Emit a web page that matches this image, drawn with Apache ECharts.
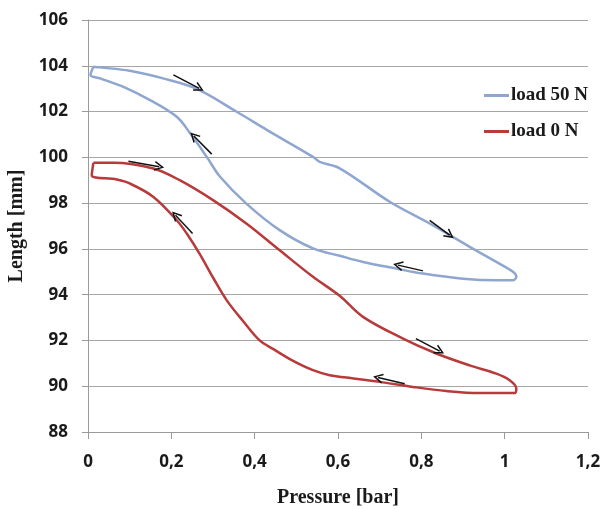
<!DOCTYPE html>
<html>
<head>
<meta charset="utf-8">
<script src="https://cdn.jsdelivr.net/npm/echarts@6/dist/echarts.min.js"></script>
<style>html,body{margin:0;padding:0;background:#fff}#c{width:603px;height:509px}</style>
</head>
<body>
<div id="c"></div>
<script>
// Pressure [bar], Length [mm] — loop for load 50 N
const load50X = [0.013,0.029,0.10,0.18,0.26,0.357,0.43,0.54,0.556,0.604,0.724,0.82,0.916,0.98,1.02,1.028,1.02,0.98,0.90,0.804,0.74,0.66,0.604,0.54,0.46,0.38,0.317,0.285,0.245,0.213,0.149,0.085,0.029,0.006,0.013];
const load50Y = [103.96,103.93,103.78,103.45,103.0,101.99,101.19,100.02,99.8,99.52,98.06,97.11,96.09,95.43,95.0,94.78,94.63,94.63,94.7,94.92,95.14,95.43,95.7,96.02,96.82,97.98,99.15,100.02,101.05,101.77,102.5,103.08,103.45,103.6,103.96];
// loop for load 0 N
const load0X = [0.013,0.061,0.157,0.22,0.30,0.38,0.46,0.54,0.604,0.66,0.756,0.836,0.916,0.98,1.012,1.028,1.024,0.94,0.86,0.78,0.70,0.62,0.58,0.54,0.49,0.445,0.412,0.372,0.333,0.30,0.269,0.237,0.213,0.157,0.10,0.069,0.009,0.013];
const load0Y = [99.76,99.76,99.51,99.0,98.13,97.11,95.94,94.78,93.95,93.03,92.08,91.43,90.91,90.55,90.26,89.9,89.7,89.7,89.79,89.97,90.19,90.38,90.48,90.7,91.13,91.62,92.0,92.85,93.75,94.75,95.75,96.67,97.25,98.27,98.86,99.03,99.22,99.76];
// direction arrows: [x1, y1, x2, y2]
const arrows = [
  [0.205,103.6,0.267,103.01],
  [0.297,100.14,0.254,100.93],
  [0.82,97.25,0.868,96.6],
  [0.804,95.04,0.744,95.29],
  [0.097,99.83,0.171,99.59],
  [0.251,96.67,0.21,97.47],
  [0.787,92.08,0.844,91.53],
  [0.76,90.11,0.696,90.38]
];
const xTicks = {min:0, max:1.2, step:0.2};
const yTicks = {min:88, max:106, step:2};
const seriesNames = ['load 50 N','load 0 N'];

const zip = (xs, ys) => xs.map((x,i)=>[x, ys[i]]);
const chart = echarts.init(document.getElementById('c'), null, {renderer:'canvas'});
const tickFont = {fontFamily:'Open Sans', fontWeight:'bold', fontSize:17, color:'#1a1a1a'};
const nameFont = {fontFamily:'Liberation Serif', fontWeight:'bold', fontSize:20, color:'#1a1a1a'};
chart.setOption({
  animation:false,
  backgroundColor:'#fff',
  grid:{left:88, right:15, top:20, bottom:77, containLabel:false, outerBoundsMode:'none'},
  legend:{
    orient:'vertical', left:479, top:81, itemGap:17, itemWidth:25, itemHeight:3, icon:'rect',
    data:seriesNames,
    textStyle:{fontFamily:'Liberation Serif', fontWeight:'bold', fontSize:19, color:'#1a1a1a', padding:[0,0,0,-3]}
  },
  xAxis:{
    type:'value', min:xTicks.min, max:xTicks.max, interval:xTicks.step,
    name:'Pressure [bar]', nameLocation:'middle', nameGap:56, nameTextStyle:nameFont,
    axisLine:{show:true, onZero:false, lineStyle:{color:'#9a9a9a', width:1}},
    axisTick:{show:true, length:7, lineStyle:{color:'#9a9a9a'}},
    axisLabel:Object.assign({margin:22, formatter:v=>String(+v.toFixed(1)).replace('.',',')}, tickFont),
    splitLine:{show:false}
  },
  yAxis:{
    type:'value', min:yTicks.min, max:yTicks.max, interval:yTicks.step,
    name:'Length [mm]', nameLocation:'middle', nameGap:61, nameRotate:90, nameTextStyle:nameFont,
    axisLine:{show:true, lineStyle:{color:'#9a9a9a', width:1}},
    axisTick:{show:true, length:6, lineStyle:{color:'#9a9a9a'}},
    axisLabel:Object.assign({margin:20}, tickFont),
    splitLine:{show:true, lineStyle:{color:'#a6a6a6', width:1}}
  },
  series:[
    {name:seriesNames[0], type:'line', data:zip(load50X, load50Y), showSymbol:false, symbol:'none',
     lineStyle:{color:'#8ea6d0', width:2.5}, itemStyle:{color:'#8ea6d0'}, smooth:0.35},
    {name:seriesNames[1], type:'line', data:zip(load0X, load0Y), showSymbol:false, symbol:'none',
     lineStyle:{color:'#b83a3a', width:2.5}, itemStyle:{color:'#b83a3a'}, smooth:0.35},
    {name:'arrows', type:'lines', coordinateSystem:'cartesian2d', z:5,
     symbol:['none','path://M5,0 L10,9 L8.6,9.6 L5,3 L1.4,9.6 L0,9 Z'], symbolSize:[10,10],
     lineStyle:{color:'#111', width:1.5, opacity:1},
     data:arrows.map(a=>({coords:[[a[0],a[1]],[a[2],a[3]]]}))}
  ]
});
</script>
</body>
</html>
